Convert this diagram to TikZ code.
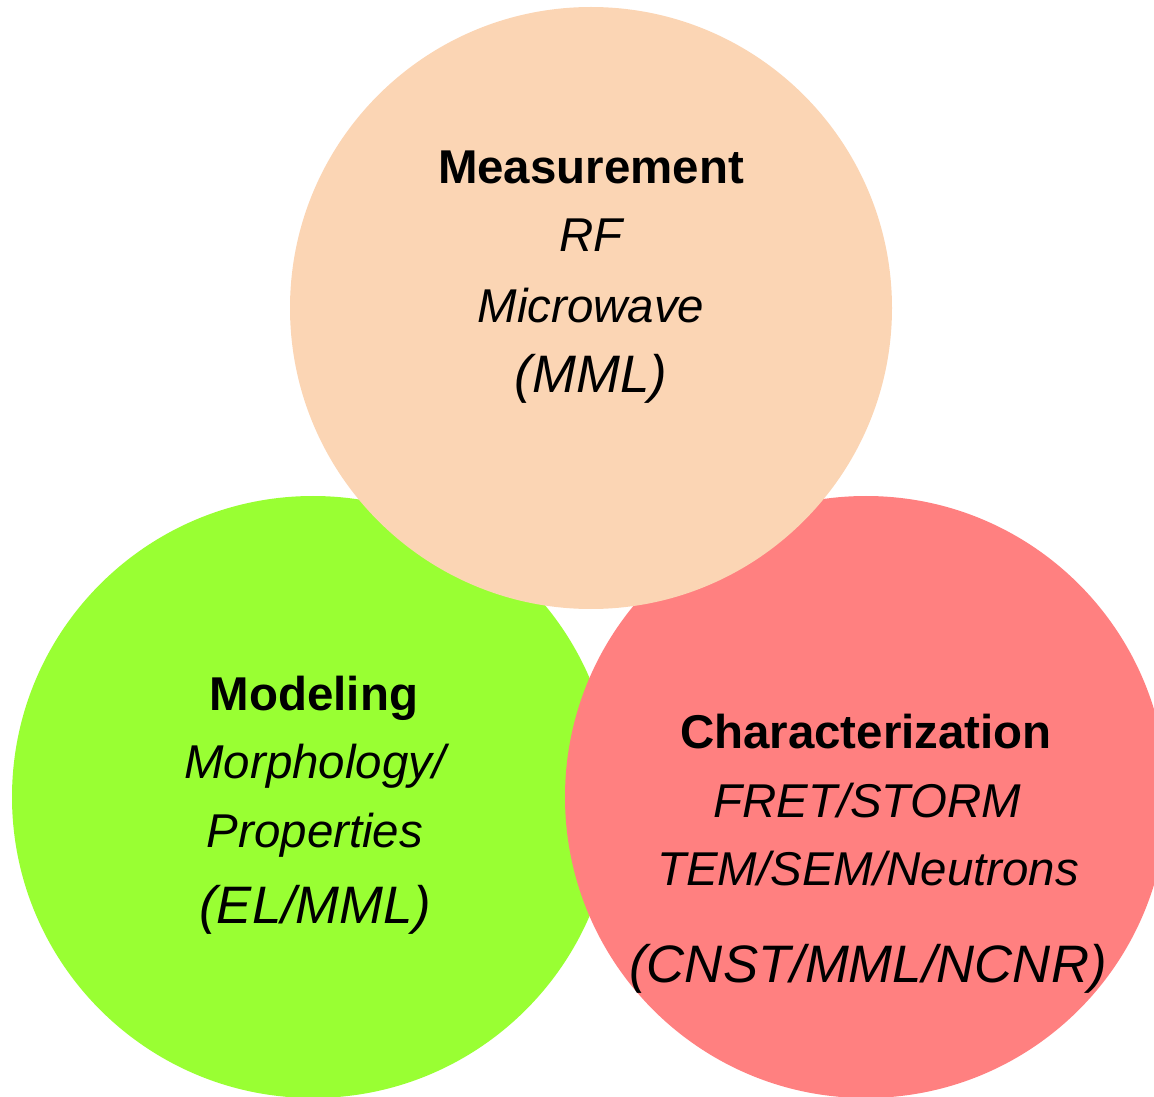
\documentclass[tikz,border=0pt]{standalone}
\usepackage{fontspec}
\setmainfont{Liberation Sans}

\definecolor{measurefill}{RGB}{251,213,180}
\definecolor{modelfill}{RGB}{153,255,51}
\definecolor{charfill}{RGB}{255,128,128}

\begin{document}
\begin{tikzpicture}[
area/.style={circle, inner sep=0pt, minimum size=6.02cm},
heading/.style={anchor=base, font=\fontsize{13.5}{16}\selectfont\bfseries},
topic/.style={anchor=base, font=\fontsize{13.5}{16}\selectfont\itshape},
group/.style={anchor=base, font=\fontsize{15}{18}\selectfont\itshape},
]

\clip (0,0) rectangle (11.54,-10.97);

\node at (3.13,-7.97) [area,fill=modelfill](modeling){};
\node at (8.66,-7.97) [area,fill=charfill](characterization){};
\node at (5.91,-3.08) [area,fill=measurefill](measurement){};

\node at (5.91,-1.84) [heading](measure_title){Measurement};
\node at (5.91,-2.52) [topic](rf){RF};
\node at (5.91,-3.23) [topic](microwave){Microwave};
\node at (5.91,-3.93) [group](measure_group){(MML)};

\node at (3.14,-7.10) [heading](model_title){Modeling};
\node at (3.15,-7.78) [topic](morphology){Morphology/};
\node at (3.15,-8.47) [topic](properties){Properties};
\node at (3.15,-9.23) [group](model_group){(EL/MML)};

\node at (8.66,-7.48) [heading](char_title){Characterization};
\node at (8.67,-8.17) [topic](fret_storm){FRET/STORM};
\node at (8.68,-8.85) [topic](tem_sem){TEM/SEM/Neutrons};
\node at (8.68,-9.82) [group](char_group){(CNST/MML/NCNR)};

\end{tikzpicture}
\end{document}
